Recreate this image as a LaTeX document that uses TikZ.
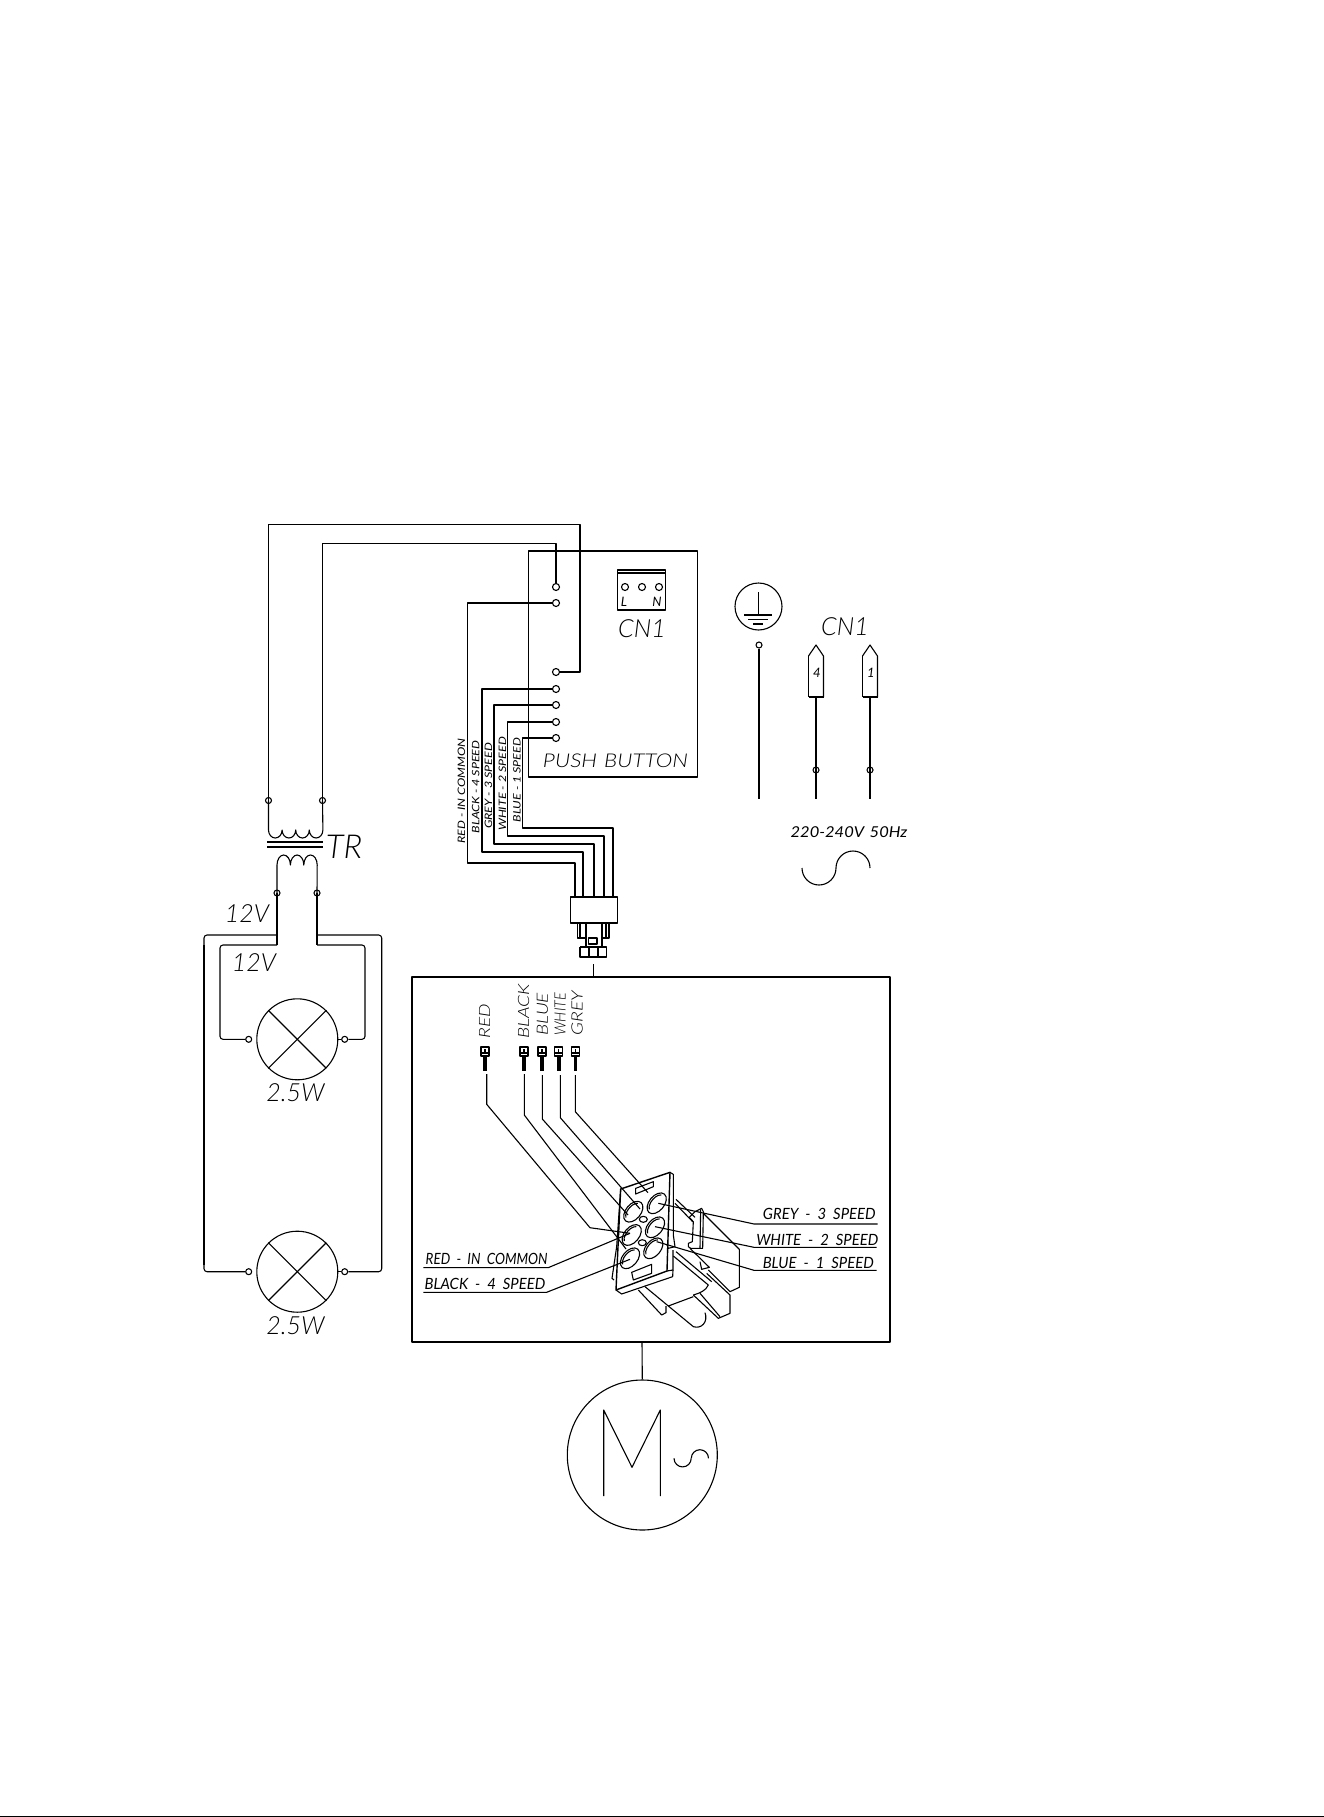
\documentclass[tikz,border=0pt]{standalone}
\usepackage{fontspec}
\setmainfont{Lato}[UprightFont=* Light, ItalicFont=* Light Italic, BoldFont=*, BoldItalicFont=* Italic]
\usepackage{tikz}
\tikzset{
  term/.style={circle, draw, inner sep=0pt, minimum size=7pt},
  smallterm/.style={circle, draw, inner sep=0pt, minimum size=6pt},
  lamp/.style={circle, draw, inner sep=0pt, minimum size=81pt},
  thickwire/.style={line width=2pt},
  bigtext/.style={font=\fontsize{25}{25}\selectfont\itshape, inner sep=0pt},
  midtext/.style={font=\fontsize{19}{19}\selectfont\itshape, inner sep=0pt, xscale=1.18, transform shape},
  smalltext/.style={font=\fontsize{15.5}{16}\selectfont\itshape\bfseries, inner sep=0pt, xscale=0.96, transform shape},
  mainstext/.style={font=\fontsize{15}{15}\selectfont\itshape\bfseries, inner sep=0pt, xscale=1.1, transform shape},
  tinytext/.style={font=\fontsize{12.5}{13}\selectfont\itshape\bfseries, inner sep=0pt, xscale=0.82, transform shape},
  tagtext/.style={font=\fontsize{19}{19}\selectfont\itshape, inner sep=0pt, xscale=0.82, transform shape, anchor=west, rotate=90},
  pintext/.style={font=\fontsize{13}{13}\selectfont\itshape\bfseries, inner sep=0pt},
  zthree/.style={shift={(590,1170)}, x=0.3333pt, y=-0.3333pt},
  zbody/.style={shift={(640,1180)}, x=0.3333pt, y=-0.3333pt},
}
\begin{document}
\begin{tikzpicture}[x=1pt, y=-1pt, line width=1.1pt, line join=round]
\useasboundingbox (0,0) rectangle (1324,1817);
\fill (0,1815.5) rectangle (1324,1817);

% push button
\node[draw, minimum width=169.5pt, minimum height=226pt, inner sep=0pt] (pbbox) at (613,664) {};
\node[midtext] (pblabel) at (615.5,761) {PUSH\hspace{6pt}BUTTON};
\foreach \nm/\py in {tra/587, red/603, trb/672, black/689, grey/705, white/722, blue/738}
  \node[term] (pb\nm) at (556,\py) {};
% header CN1
\node[draw, minimum width=48pt, minimum height=40pt, inner sep=0pt] (cnbox) at (641.8,590) {};
\draw (617.8,573) -- (665.8,573);
\foreach \nm/\cx in {a/625, b/642, c/659}
  \node[term] (cn\nm) at (\cx,587) {};
\node[pintext] (cnl) at (624,602) {L};
\node[pintext] (cnn) at (657,602) {N};
\node[bigtext] (cntext) at (642,629) {CN1};

% wires to the transformer
\node[smallterm] (pria) at (268.5,800.5) {};
\node[smallterm] (prib) at (322.5,800.5) {};
\draw (pbtrb) -- (580,672) -- (580,524.3) -- (268.5,524.3) -- (pria.center);
\draw (pbtra) -- (556,543.3) -- (322.5,543.3) -- (prib.center);

% push button wires
\draw (pbred) -- (467.5,603) -- (467.5,863) -- (575,863) -- (575,897);
\draw (pbgrey) -- (494,705) -- (494,844) -- (594,844) -- (594,897);
\draw (pbwhite) -- (507.5,722) -- (507.5,836) -- (604,836) -- (604,897);
\draw (pbblue) -- (522.5,738) -- (522.5,828) -- (613,828) -- (613,897);
\draw (pbblack) -- (482,689) -- (482,852) -- (583,852) -- (583,897);
\draw[thickwire] (pbblack) -- (482,689);
\draw[thickwire] (575,863) -- (575,897);
\draw[thickwire] (594,844) -- (594,897);
\draw[thickwire] (507.5,836) -- (604,836);
\draw[thickwire] (522.5,828) -- (613,828);

\node[tinytext, rotate=90] (lbred) at (461.5,791) {RED - IN COMMON};
\node[tinytext, rotate=90] (lbblack) at (475.7,787) {BLACK - 4 SPEED};
\node[tinytext, rotate=90] (lbgrey) at (488.5,786) {GREY - 3 SPEED};
\node[tinytext, rotate=90] (lbwhite) at (502.5,784) {WHITE - 2 SPEED};
\node[tinytext, rotate=90] (lbblue) at (517,780) {BLUE - 1 SPEED};

% plug
\node[draw, minimum width=47.5pt, minimum height=26pt, inner sep=0pt] (plug) at (593.8,910) {};
\draw (577.5,923) -- (577.5,938) -- (586,938);
\draw (609,923) -- (609,938) -- (602,938);
\draw (580,923) -- (580,938);
\draw (606,923) -- (606,938);
\draw (586,923) -- (586,947) -- (602,947) -- (602,923);
\draw (588.5,938) rectangle (597,944);
\draw (580,947) -- (580,957) -- (606.5,957) -- (606.5,947) -- (580,947);
\draw (589,947) -- (589,957);
\draw (598,947) -- (598,957);
\coordinate (plugend) at (593.5,964);

% right side
\node[draw, circle, minimum size=47pt, inner sep=0pt] (earth) at (758.5,606.5) {};
\draw (758.5,592) -- (758.5,615);
\draw (744,615) -- (771.7,615);
\draw (748,619.5) -- (768,619.5);
\draw (753,624) -- (763,624);
\node[smallterm] (earthterm) at (759,645) {};
\coordinate (earthend) at (759,799);
\draw (earthterm) -- (earthend);
\node[bigtext] (cnright) at (845,627) {CN1};
\foreach \nm/\px in {4/816, 1/870} {
  \draw (\px-7.5,656) -- (\px,645) -- (\px+7.5,656) -- (\px+7.5,697);
  \draw (\px-7.5,656) -- (\px-7.5,697);
  \draw[line width=2pt] (\px-7.5,697) -- (\px+7.5,697);
  \node[pintext] (pinlabel\nm) at (\px+1,673) {\nm};
  \node[smallterm] (pin\nm) at (\px,770) {};
  \coordinate (pintop\nm) at (\px,697);
  \coordinate (pinend\nm) at (\px,799);
  \draw (pintop\nm) -- (pin\nm.center) -- (pinend\nm);
}
\node[mainstext] (mains) at (849,832) {220-240V\hspace{5pt}50Hz};
\draw (802,868) arc[start angle=180, end angle=360, radius=17pt];
\draw (836,868) arc[start angle=180, end angle=0, radius=17pt];

% transformer
\draw (pria.center) -- (268.5,830)
  arc[start angle=180, end angle=360, x radius=6.8pt, y radius=8pt]
  arc[start angle=180, end angle=360, x radius=6.8pt, y radius=8pt]
  arc[start angle=180, end angle=360, x radius=6.8pt, y radius=8pt]
  arc[start angle=180, end angle=360, x radius=6.8pt, y radius=8pt] -- (prib.center);
\draw (267,842) -- (323,842);
\draw (267,847) -- (323,847);
\node[smallterm] (seca) at (277,893) {};
\node[smallterm] (secb) at (317,893) {};
\draw (seca.center) -- (277,865)
  arc[start angle=180, end angle=0, x radius=6.7pt, y radius=10pt]
  arc[start angle=180, end angle=0, x radius=6.7pt, y radius=10pt]
  arc[start angle=180, end angle=0, x radius=6.7pt, y radius=10pt] -- (secb.center);
\node[font=\fontsize{33}{33}\selectfont\itshape, inner sep=0pt] (trlabel) at (344,847) {TR};
\node[bigtext] (volta) at (247,914) {12V};
\node[bigtext] (voltb) at (254,963) {12V};

% lamps
\node[lamp] (lampa) at (297.3,1039.3) {};
\node[lamp] (lampb) at (297.3,1271.7) {};
\foreach \nm in {lampa, lampb} {
  \draw (\nm.north west) -- (\nm.south east);
  \draw (\nm.south west) -- (\nm.north east);
}
\node[smallterm] (lampal) at (248.7,1039.3) {};
\node[smallterm] (lampar) at (344.7,1039.3) {};
\node[smallterm] (lampbl) at (248.7,1271.7) {};
\node[smallterm] (lampbr) at (344.7,1271.7) {};
\draw (lampar) -- (lampa.east);
\draw (lampbr) -- (lampb.east);
\node[bigtext] (wattaa) at (295.5,1092.7) {2.5W};
\node[bigtext] (wattb) at (295.5,1326) {2.5W};
\draw (seca.center) -- (277,945);
\draw (secb.center) -- (317,945);
\draw[rounded corners=3pt] (277,945) -- (220,945) -- (220,1039.3) -- (lampal);
\draw[rounded corners=3pt] (317,945) -- (365,945) -- (365,1039.3) -- (lampar);
\draw[rounded corners=3pt] (277,935) -- (204,935) -- (204,1271.7) -- (lampbl);
\draw[rounded corners=3pt] (317,935) -- (381.7,935) -- (381.7,1271.7) -- (lampbr);
\draw[thickwire] (204,945) -- (204,1265);

% connector panel
\node[draw, minimum width=478pt, minimum height=365pt, inner sep=0pt] (panel) at (651,1159.5) {};
\draw (plugend) -- (593.5,977);
\node[tagtext] (tagred) at (484.5,1039) {RED};
\node[tagtext] (tagblack) at (523.5,1039) {BLACK};
\node[tagtext] (tagblue) at (542.5,1036) {BLUE};
\node[tagtext, xscale=0.76] (tagwhite) at (560,1036) {WHITE};
\node[tagtext] (taggrey) at (577,1036) {GREY};
\foreach \nm/\px in {red/485, black/524, blue/542, white/558.7, grey/575.3} {
  \draw (\px-4,1047) rectangle (\px+4,1056);
  \draw (\px,1049) -- (\px,1053);
  \draw (\px-4,1053) -- (\px+4,1053);
  \draw[line width=3.6pt] (\px,1056) -- (\px,1070.6);
}
\coordinate (endred) at (630,1233.3);
\coordinate (endblack) at (626,1249);
\coordinate (endblue) at (628,1215);
\coordinate (endwhite) at (640,1209);
\coordinate (endgrey) at (648,1192.7);
\draw (486.7,1074) -- (486.7,1104.3) -- (590,1227.7) -- (endred);
\draw (524.3,1074) -- (524.3,1115) -- (endblack);
\draw (542.3,1075) -- (542.3,1119) -- (endblue);
\draw (560.3,1075) -- (560.3,1117.7) -- (endwhite);
\draw (575.3,1075) -- (575.3,1111.7) -- (endgrey);

% plug seen from the front
\begin{scope}[zthree]
\draw[line width=1.4pt] (92,57) -- (240,7) -- (231,303) -- (78,360) -- cycle;
\draw (240,7) -- (250,13) -- (250,195) -- (255,230) -- (235,235) -- (231,225);
\draw (249,240) -- (249,300) -- (231,303);
\draw (249,300) -- (248,320) -- (95,372) -- (78,360);
\draw (137,55) -- (190,35) -- (190,50) -- (137,72) -- cycle;
\draw (125,307) -- (185,283) -- (185,310) -- (130,330) -- cycle;
\draw (92,57) -- (80,230) -- (66,325) -- (72,330);
\end{scope}
\foreach \hx/\hy in {633.3/1211.7, 656.7/1203.3, 631.7/1235, 655/1227.3, 630/1258.3, 653.3/1248.3} {
  \begin{scope}[shift={(\hx,\hy)}, rotate=-40]
    \draw (0pt,0pt) ellipse [x radius=7.5pt, y radius=12pt];
    \draw (110:5.5pt and 10pt) arc [start angle=110, end angle=250, x radius=5.5pt, y radius=10pt];
  \end{scope}
}
\draw (643.3,1219.3) ellipse [x radius=4pt, y radius=3pt];
\draw (642.3,1242.7) ellipse [x radius=4pt, y radius=3pt];

% plug body
\begin{scope}[zbody]
\draw (108,58) -- (165,112);
\draw (105,70) -- (158,125);
\draw (148,112) -- (165,95) -- (185,85) -- (190,95) -- (188,205) -- (150,205);
\draw (182,88) -- (180,205);
\draw (148,112) -- (160,125) -- (157,185) -- (145,190) -- (145,200) -- (152,205);
\draw (190,100) -- (298,208) -- (298,322) -- (270,335) -- (205,270);
\draw (150,205) -- (208,262) -- (185,268) -- (180,245);
\draw (200,280) -- (270,345) -- (270,400) -- (235,415) -- (160,345);
\draw (180,340) -- (240,410);
\draw (108,215) -- (215,305);
\draw (100,228) -- (205,315) .. controls (198,332) and (178,340) .. (160,345);
\draw (15,320) -- (85,378) -- (160,440) .. controls (185,448) and (205,425) .. (195,398);
\draw (85,378) -- (160,350);
\draw (-5,330) -- (65,405) -- (78,398) -- (78,378);
\end{scope}

% labels and leaders
\begin{scope}[shift={(400,970)}, x=0.3333pt, y=-0.3333pt]
\draw (775,700) -- (1062,762) -- (1433,762);
\draw (765,770) -- (1062,832) -- (1430,832);
\draw (770,815) -- (1062,901) -- (1430,901);
\draw (70,893) -- (445,893) -- (690,790);
\draw (70,967) -- (440,967) -- (690,868);
\node[smalltext] (lgrey) at (1258,733) {GREY~~-~~3~~SPEED};
\node[smalltext] (lwhite) at (1252,810) {WHITE~~-~~2~~SPEED};
\node[smalltext] (lblue) at (1255,878) {BLUE~~-~~1~~SPEED};
\node[smalltext, xscale=0.9] (lred) at (260,866) {RED~~-~~IN~~COMMON};
\node[smalltext] (lblack) at (255,943) {BLACK~~-~~4~~SPEED};
\end{scope}

% motor
\node[draw, circle, minimum size=150pt, inner sep=0pt] (motor) at (642.3,1455) {};
\draw (642,1342) -- (motor.north);
\draw (603.7,1496) -- (603.7,1410) -- (632,1467.3) -- (660.3,1410) -- (660.3,1496);
\draw (674,1458.3) arc[start angle=180, end angle=360, radius=8.6pt];
\draw (691.3,1458.3) arc[start angle=180, end angle=0, radius=8.6pt];
\end{tikzpicture}
\end{document}
